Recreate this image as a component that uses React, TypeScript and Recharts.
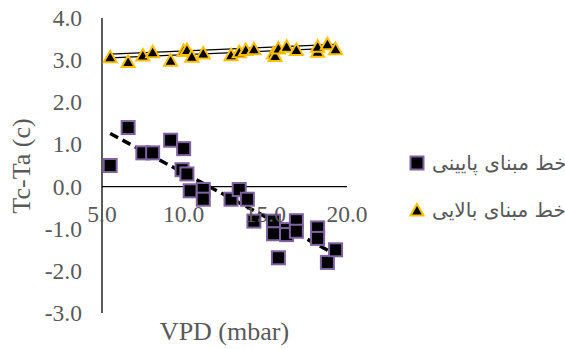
import { ComposedChart, Scatter, Line, XAxis, YAxis, ReferenceLine } from 'recharts'

// lower baseline (squares)
const lowerVpd = [5.5, 6.6, 7.5, 8.1, 9.2, 10.0, 9.9, 10.2, 10.4, 11.2, 11.2, 12.9, 13.4, 13.9, 14.3, 15.5, 15.5, 16.3, 16.3, 16.9, 16.9, 15.8, 18.2, 18.2, 18.8, 19.3]
const lowerDiff = [0.5, 1.4, 0.8, 0.8, 1.1, 0.9, 0.4, 0.3, -0.1, -0.07, -0.3, -0.3, -0.07, -0.3, -0.82, -0.82, -1.12, -1.02, -1.14, -0.81, -1.06, -1.69, -0.98, -1.23, -1.8, -1.5]

// upper baseline (triangles)
const upperVpd = [5.5, 6.6, 7.5, 8.1, 9.2, 10.0, 10.2, 10.5, 11.2, 12.9, 13.4, 13.8, 14.3, 15.5, 15.6, 15.8, 16.3, 16.9, 18.2, 18.2, 18.8, 19.3]
const upperDiff = [3.08, 2.97, 3.12, 3.2, 3.0, 3.23, 3.25, 3.09, 3.17, 3.13, 3.2, 3.25, 3.27, 3.17, 3.11, 3.29, 3.33, 3.25, 3.21, 3.33, 3.39, 3.27]

// trendline ends
const lowerTrendVpd = [5.5, 19.3]
const lowerTrendDiff = [1.26, -1.61]
const upperTrendVpd = [5.5, 19.3]
const upperTrendDiff = [3.1, 3.33]

const xTicks = [5, 10, 15, 20]
const yTicks = [-3, -2, -1, 0, 1, 2, 3, 4]
const legendLabels = ['خط مبنای پایینی', 'خط مبنای بالایی']

const toPoints = (xs: number[], ys: number[]) => xs.map((x, i) => ({ x, y: ys[i] }))

const lowerData = toPoints(lowerVpd, lowerDiff)
const upperData = toPoints(upperVpd, upperDiff)
const lowerTrend = toPoints(lowerTrendVpd, lowerTrendDiff)
const upperTrend = toPoints(upperTrendVpd, upperTrendDiff)

const W = 565
const H = 349
const PLOT_LEFT = 102
const PLOT_TOP = 18
const PLOT_W = 245
const PLOT_H = 295
const Y_MIN = -3
const Y_MAX = 4
const ZERO_Y = PLOT_TOP + (PLOT_H * Y_MAX) / (Y_MAX - Y_MIN)

const GRAY = '#595959'
const PURPLE = '#7f63a1'
const GOLD = '#ffc000'
const SERIF = '"Liberation Serif", "DejaVu Serif", serif'
const serif = { fontFamily: SERIF }

function Square({ cx, cy }: any) {
    return <rect x={cx - 6.5} y={cy - 6.5} width={13} height={13} fill="#000" stroke={PURPLE} strokeWidth={2} />
}

function Triangle({ cx, cy }: any) {
    return (
        <polygon
            points={`${cx},${cy - 6} ${cx + 6.5},${cy + 5.5} ${cx - 6.5},${cy + 5.5}`}
            fill="#000"
            stroke={GOLD}
            strokeWidth={2}
        />
    )
}

function XTick({ x, payload }: any) {
    return (
        <text x={x} y={ZERO_Y + 35} textAnchor="middle" fill={GRAY} fontSize={23.5} fontFamily={SERIF} style={serif}>
            {payload.value.toFixed(1)}
        </text>
    )
}

function YTick({ x, y, payload }: any) {
    return (
        <text x={x} y={y} dy={8} textAnchor="end" fill={GRAY} fontSize={23.5} fontFamily={SERIF} style={serif}>
            {payload.value.toFixed(1)}
        </text>
    )
}

const titleStyle = {
    position: 'absolute' as const,
    height: 26,
    lineHeight: '26px',
    fontSize: 26,
    color: GRAY,
    textAlign: 'center' as const,
    whiteSpace: 'nowrap' as const,
    ...serif,
}

function LegendBox() {
    const markers = [
        <rect key="s" x={1.5} y={1.5} width={13} height={13} fill="#000" stroke={PURPLE} strokeWidth={2} />,
        <polygon key="t" points="8,2 14.5,13.5 1.5,13.5" fill="#000" stroke={GOLD} strokeWidth={2} />,
    ]
    return (
        <div style={{ position: 'absolute', left: 409, top: 149, width: W - 409, overflow: 'hidden' }}>
            {legendLabels.map((label, i) => (
                <div key={label} style={{ display: 'flex', alignItems: 'center', height: 28, marginBottom: i === 0 ? 19 : 0 }}>
                    <svg width={16} height={16} style={{ flex: 'none' }}>
                        {markers[i]}
                    </svg>
                    <span
                        style={{
                            marginLeft: 7,
                            whiteSpace: 'nowrap',
                            direction: 'rtl',
                            fontFamily: 'DejaVu Sans',
                            fontSize: 20,
                            color: GRAY,
                        }}
                    >
                        {label}
                    </span>
                </div>
            ))}
        </div>
    )
}

export default function App() {
    return (
        <div style={{ position: 'absolute', left: 0, top: 0, width: W, height: H, ...serif }}>
            <ComposedChart
                width={W}
                height={H}
                margin={{ top: PLOT_TOP, right: W - PLOT_LEFT - PLOT_W, bottom: 0, left: 22 }}
            >
                <XAxis
                    type="number"
                    dataKey="x"
                    domain={[5, 20]}
                    ticks={xTicks}
                    allowDataOverflow
                    axisLine={false}
                    tickLine={false}
                    height={H - PLOT_TOP - PLOT_H}
                    tick={<XTick />}
                    interval={0}
                />
                <YAxis
                    type="number"
                    dataKey="y"
                    domain={[Y_MIN, Y_MAX]}
                    ticks={yTicks}
                    allowDataOverflow
                    width={PLOT_LEFT - 22}
                    axisLine={{ stroke: '#000', strokeWidth: 1.3 }}
                    tickLine={false}
                    tickSize={0}
                    tickMargin={20}
                    interval={0}
                    tick={<YTick />}
                />
                <ReferenceLine y={0} stroke="#000" strokeWidth={1.3} />
                <Scatter data={lowerData} shape={<Square />} isAnimationActive={false} />
                <Scatter data={upperData} shape={<Triangle />} isAnimationActive={false} />
                <Line
                    data={lowerTrend}
                    dataKey="y"
                    stroke="#000"
                    strokeWidth={3.5}
                    strokeDasharray="9 5"
                    dot={false}
                    isAnimationActive={false}
                />
                <Line
                    data={upperTrend}
                    dataKey="y"
                    stroke="#000"
                    strokeWidth={5}
                    dot={false}
                    isAnimationActive={false}
                />
                <Line
                    data={upperTrend}
                    dataKey="y"
                    stroke="#fff"
                    strokeWidth={2.5}
                    dot={false}
                    isAnimationActive={false}
                />
            </ComposedChart>
            <div style={{ ...titleStyle, left: PLOT_LEFT, top: 319, width: PLOT_W }}>VPD (mbar)</div>
            <div
                style={{
                    ...titleStyle,
                    left: 22 - 100,
                    top: PLOT_TOP + PLOT_H / 2 - 13,
                    width: 200,
                    transform: 'rotate(-90deg)',
                }}
            >
                Tc-Ta (c)
            </div>
            <LegendBox />
        </div>
    )
}
